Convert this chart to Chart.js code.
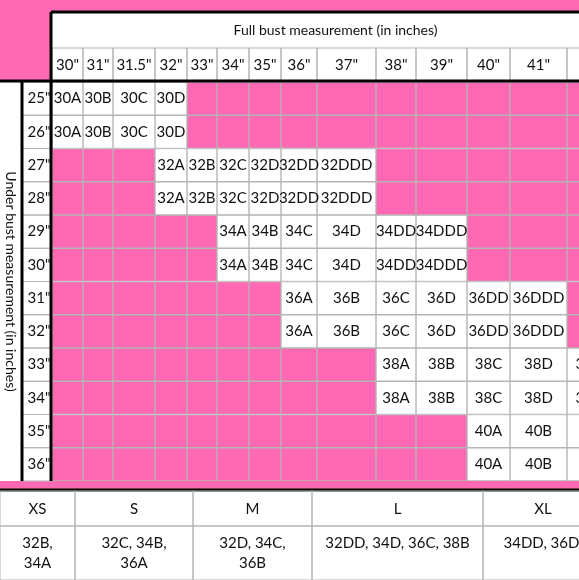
<!DOCTYPE html>
<html>
<head>
<meta charset="utf-8">
<script src="https://cdn.jsdelivr.net/npm/chart.js@4.4.0/dist/chart.umd.min.js"></script>
<style>
  body { margin: 0; background: #fff; }
  #wrap { width: 579px; height: 580px; position: relative; }
</style>
</head>
<body>
<div id="wrap"><canvas id="chart"></canvas></div>
<script>
// full bust columns (width in "table units")
const bustLabels = ['30"', '31"', '31.5"', '32"', '33"', '34"', '35"', '36"', '37"', '38"', '39"', '40"', '41"', '42"'];
const bustWidths = [31, 30, 42, 32, 30, 32, 32, 36, 59, 40, 51, 43, 57, 57];
const underLabels = ['25"', '26"', '27"', '28"', '29"', '30"', '31"', '32"', '33"', '34"', '35"', '36"'];
// cup size per row, starting at the given column index
const rowStart = [0, 0, 3, 3, 5, 5, 7, 7, 9, 9, 11, 11];
const rowSizes = [
  ['30A', '30B', '30C', '30D'],
  ['30A', '30B', '30C', '30D'],
  ['32A', '32B', '32C', '32D', '32DD', '32DDD'],
  ['32A', '32B', '32C', '32D', '32DD', '32DDD'],
  ['34A', '34B', '34C', '34D', '34DD', '34DDD'],
  ['34A', '34B', '34C', '34D', '34DD', '34DDD'],
  ['36A', '36B', '36C', '36D', '36DD', '36DDD'],
  ['36A', '36B', '36C', '36D', '36DD', '36DDD'],
  ['38A', '38B', '38C', '38D', '38DD'],
  ['38A', '38B', '38C', '38D', '38DD'],
  ['40A', '40B', '40C'],
  ['40A', '40B', '40C']
];
const letterSizes = ['XS', 'S', 'M', 'L', 'XL'];
const letterCups = [['32B,', '34A'], ['32C, 34B,', '36A'], ['32D, 34C,', '36B'], ['32DD, 34D, 36C, 38B'], ['34DD, 36D,']];
const letterWidths = [75, 118, 119, 171, 120];

const PINK = '#ff69b4';
const FONT = 'Lato, "DejaVu Sans", sans-serif';

function cellText(r, c) {
  const k = c - rowStart[r];
  return (k >= 0 && k < rowSizes[r].length) ? rowSizes[r][k] : '';
}

const datasets = bustLabels.map((lab, c) => ({
  label: lab,
  data: underLabels.map(() => bustWidths[c]),
  backgroundColor: underLabels.map((u, r) => cellText(r, c) ? '#ffffff' : PINK),
  borderColor: '#b4b4b4',
  borderWidth: 1,
  borderSkipped: false,
  barPercentage: 1,
  categoryPercentage: 1
}));

const tablePlugin = {
  id: 'tablePlugin',
  beforeDraw(chart) {
    const ctx = chart.ctx, a = chart.chartArea;
    ctx.save();
    ctx.fillStyle = '#fff';
    ctx.fillRect(0, 0, chart.width, chart.height);
    ctx.fillStyle = PINK;
    ctx.fillRect(0, 0, chart.width, a.top);
    ctx.fillRect(0, a.bottom, chart.width, 8);
    ctx.fillStyle = '#fff';
    ctx.fillRect(a.left, 12, chart.width, a.top - 12);
    ctx.restore();
  },
  afterDatasetsDraw(chart) {
    const ctx = chart.ctx, a = chart.chartArea, xs = chart.scales.x, ys = chart.scales.y;
    ctx.save();
    ctx.font = '15px ' + FONT;
    ctx.fillStyle = '#111';
    ctx.textAlign = 'center';
    ctx.textBaseline = 'middle';
    // cell text
    chart.data.datasets.forEach((ds, c) => {
      const meta = chart.getDatasetMeta(c);
      meta.data.forEach((bar, r) => {
        const t = cellText(r, c);
        if (t) ctx.fillText(t, (bar.x + bar.base) / 2, bar.y);
      });
    });
    // header row
    const hTop = a.top - 34;
    let acc = 0;
    ctx.strokeStyle = '#b4b4b4';
    ctx.lineWidth = 1;
    bustLabels.forEach((lab, c) => {
      const x0 = xs.getPixelForValue(acc), x1 = xs.getPixelForValue(acc + bustWidths[c]);
      ctx.strokeRect(x0, hTop, x1 - x0, a.top - hTop);
      ctx.fillText(lab, (x0 + x1) / 2, (hTop + a.top) / 2);
      acc += bustWidths[c];
    });
    ctx.font = '14px ' + FONT;
    ctx.fillText('Full bust measurement (in inches)', (a.left + chart.width) / 2 + 20, 30);
    // row labels
    ctx.font = '15px ' + FONT;
    underLabels.forEach((lab, r) => {
      const y = ys.getPixelForValue(r), h = (ys.getPixelForValue(1) - ys.getPixelForValue(0));
      ctx.strokeRect(22, y - h / 2, a.left - 22, h);
      ctx.fillText(lab, (22 + a.left) / 2 + 2, y);
    });
    // rotated axis title
    ctx.save();
    ctx.translate(11, (a.top + a.bottom) / 2);
    ctx.rotate(Math.PI / 2);
    ctx.font = '14px ' + FONT;
    ctx.fillText('Under bust measurement (in inches)', 0, 0);
    ctx.restore();
    // black frame lines
    ctx.strokeStyle = '#000';
    ctx.lineWidth = 3;
    ctx.beginPath();
    ctx.moveTo(a.left - 1, 12); ctx.lineTo(a.left - 1, a.bottom);
    ctx.moveTo(a.left - 1, 12); ctx.lineTo(chart.width, 12);
    ctx.moveTo(0, a.top - 1); ctx.lineTo(chart.width, a.top - 1);
    ctx.moveTo(22, a.top); ctx.lineTo(22, a.bottom);
    ctx.stroke();
    // bottom letter-size table
    const tTop = a.bottom + 9, mid = tTop + 36, tBot = chart.height;
    ctx.beginPath();
    ctx.moveTo(0, tTop); ctx.lineTo(chart.width, tTop);
    ctx.stroke();
    ctx.strokeStyle = '#b4b4b4';
    ctx.lineWidth = 1;
    let x = 0;
    letterSizes.forEach((s, i) => {
      const w = letterWidths[i];
      ctx.strokeRect(x, tTop + 1, w, mid - tTop - 1);
      ctx.strokeRect(x, mid, w, tBot - mid);
      ctx.fillText(s, x + w / 2, (tTop + mid) / 2 + 1);
      const lines = letterCups[i];
      lines.forEach((ln, k) => {
        const y = (mid + tBot) / 2 + (k - (lines.length - 1) / 2) * 20 + (lines.length === 1 ? -10 : 0);
        ctx.fillText(ln, x + w / 2, y);
      });
      x += w;
    });
    ctx.restore();
  }
};

new Chart(document.getElementById('chart'), {
  type: 'bar',
  data: { labels: underLabels, datasets: datasets },
  options: {
    indexAxis: 'y',
    responsive: true,
    maintainAspectRatio: false,
    animation: false,
    layout: { padding: { top: 82, left: 52, right: 0, bottom: 99 } },
    scales: {
      x: { stacked: true, display: false, min: 0, max: 527 },
      y: { stacked: true, display: false }
    },
    plugins: { legend: { display: false }, tooltip: { enabled: false } }
  },
  plugins: [tablePlugin]
});
</script>
</body>
</html>
